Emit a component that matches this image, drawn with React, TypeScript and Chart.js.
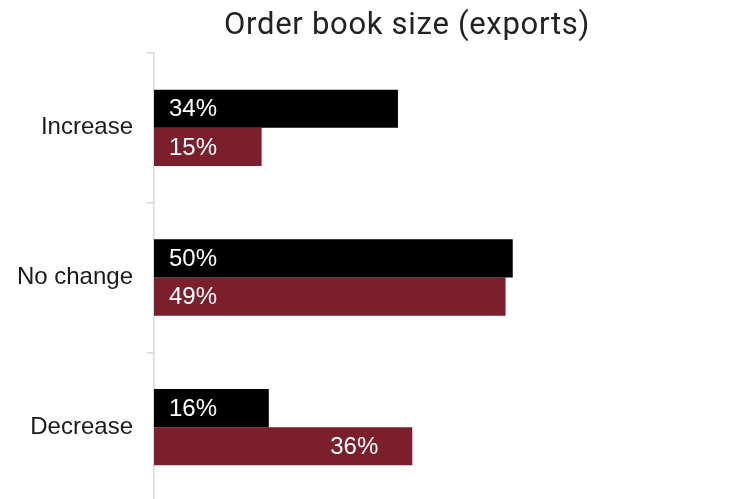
import React, { useEffect, useRef } from "react";
import { Chart, registerables } from "chart.js";

Chart.register(...registerables);

const categories = ["Increase", "No change", "Decrease"];
const seriesA = [34, 50, 16];
const seriesB = [15, 49, 36];
const titleText = "Order book size (exports)";

export default function App() {
  const ref = useRef<HTMLCanvasElement | null>(null);

  useEffect(() => {
    document.body.style.margin = "0";
    const canvas = ref.current;
    if (!canvas) return;

    const labelPlugin = {
      id: "barLabels",
      afterDatasetsDraw(chart: any) {
        const ctx = chart.ctx;
        ctx.save();
        ctx.font = "24px 'Liberation Sans', Arial, sans-serif";
        ctx.fillStyle = "#ffffff";
        ctx.textBaseline = "middle";
        ctx.textAlign = "left";
        chart.data.datasets.forEach((ds: any, di: number) => {
          const meta = chart.getDatasetMeta(di);
          meta.data.forEach((bar: any, i: number) => {
            const txt = ds.data[i] + "%";
            const w = ctx.measureText(txt).width;
            let x = bar.base + 15;
            if (di === 1 && i === 2) x = bar.x - 34 - w;
            ctx.fillText(txt, x, bar.y + 1);
          });
        });
        ctx.restore();
      },
    };

    const titlePlugin = {
      id: "customTitle",
      afterDraw(chart: any) {
        const ctx = chart.ctx;
        ctx.save();
        ctx.font = "31px Roboto, sans-serif";
        try {
          (ctx as any).letterSpacing = "0.7px";
        } catch (e) {}
        ctx.fillStyle = "#222222";
        ctx.textAlign = "center";
        ctx.textBaseline = "alphabetic";
        ctx.fillText(titleText, 407, 34);
        ctx.restore();
      },
    };

    const chart = new Chart(canvas, {
      type: "bar",
      data: {
        labels: categories,
        datasets: [
          {
            label: "A",
            data: seriesA,
            backgroundColor: "#000000",
            categoryPercentage: 0.51,
            barPercentage: 1,
          },
          {
            label: "B",
            data: seriesB,
            backgroundColor: "#7A1F2B",
            categoryPercentage: 0.51,
            barPercentage: 1,
          },
        ],
      },
      options: {
        indexAxis: "y",
        animation: false,
        responsive: false,
        layout: { padding: { top: 53, right: 12, bottom: 0, left: 0 } },
        plugins: {
          legend: { display: false },
          title: { display: false },
          tooltip: { enabled: false },
        },
        scales: {
          x: {
            display: false,
            min: 0,
            max: 80,
          },
          y: {
            afterFit: (scale: any) => {
              scale.width = 154;
              scale.paddingTop = 0;
              scale.paddingBottom = 0;
            },
            grid: {
              display: true,
              drawOnChartArea: false,
              drawTicks: true,
              tickLength: 7,
              color: "#d9d9d9",
              lineWidth: 1.5,
              offset: true,
            },
            border: { display: true, color: "#d9d9d9", width: 1.5 },
            ticks: {
              color: "#1a1a1a",
              font: { family: "'Liberation Sans', Arial, sans-serif", size: 24 },
              padding: 14,
            },
          },
        },
      },
      plugins: [labelPlugin, titlePlugin],
    });

    return () => chart.destroy();
  }, []);

  return (
    <div style={{ width: 740, height: 502 }}>
      <canvas ref={ref} width={740} height={502} style={{ display: "block" }} />
    </div>
  );
}
